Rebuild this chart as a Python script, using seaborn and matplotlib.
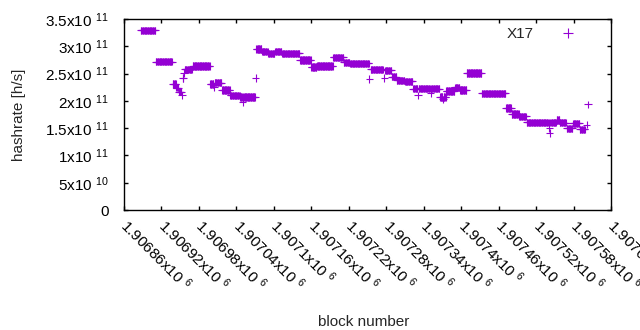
import numpy as np
import pandas as pd
import seaborn as sns
import matplotlib
matplotlib.use("Agg")
import matplotlib.pyplot as plt
import matplotlib.transforms as mtransforms

# ---- data: runs of constant hashrate (block start, block end, hashrate) ----
run_start = [1906887, 1906911, 1906938, 1906944, 1906948, 1906953, 1906954, 1906956,
             1906957, 1906970, 1906998, 1907004, 1907005, 1907017, 1907030, 1907046,
             1907050, 1907051, 1907071, 1907072, 1907081, 1907091, 1907102, 1907113,
             1907142, 1907160, 1907169, 1907195, 1907212, 1907222, 1907253, 1907255,
             1907277, 1907278, 1907289, 1907297, 1907310, 1907323, 1907331, 1907332,
             1907351, 1907352, 1907366, 1907371, 1907372, 1907376, 1907390, 1907398,
             1907409, 1907433, 1907472, 1907481, 1907493, 1907505, 1907541, 1907542,
             1907543, 1907553, 1907558, 1907569, 1907579, 1907590, 1907601, 1907603]
run_end = [1906910, 1906937, 1906943, 1906947, 1906952, 1906953, 1906955, 1906956,
           1906969, 1906997, 1907003, 1907004, 1907016, 1907029, 1907045, 1907049,
           1907050, 1907070, 1907071, 1907080, 1907090, 1907101, 1907112, 1907141,
           1907159, 1907168, 1907194, 1907211, 1907221, 1907252, 1907253, 1907275,
           1907277, 1907288, 1907296, 1907309, 1907322, 1907330, 1907331, 1907350,
           1907351, 1907365, 1907370, 1907371, 1907375, 1907389, 1907397, 1907408,
           1907432, 1907471, 1907480, 1907492, 1907504, 1907540, 1907541, 1907542,
           1907552, 1907557, 1907568, 1907578, 1907589, 1907598, 1907601, 1907603]
run_value = [3.29e11, 2.72e11, 2.31e11, 2.24e11, 2.17e11, 2.10e11, 2.42e11, 2.51e11,
             2.58e11, 2.64e11, 2.31e11, 2.25e11, 2.33e11, 2.20e11, 2.10e11, 2.07e11,
             1.98e11, 2.07e11, 2.42e11, 2.95e11, 2.90e11, 2.87e11, 2.90e11, 2.87e11,
             2.75e11, 2.62e11, 2.64e11, 2.80e11, 2.71e11, 2.69e11, 2.40e11, 2.58e11,
             2.42e11, 2.56e11, 2.44e11, 2.38e11, 2.36e11, 2.22e11, 2.10e11, 2.23e11,
             2.14e11, 2.22e11, 2.07e11, 2.03e11, 2.07e11, 2.18e11, 2.25e11, 2.20e11,
             2.51e11, 2.14e11, 1.87e11, 1.76e11, 1.72e11, 1.61e11, 1.50e11, 1.41e11,
             1.60e11, 1.65e11, 1.60e11, 1.50e11, 1.59e11, 1.48e11, 1.56e11, 1.94e11]

x_ticks = [1906860 + 60 * i for i in range(14)]
x_tick_labels = ["1.90686", "1.90692", "1.90698", "1.90704", "1.9071", "1.90716",
                 "1.90722", "1.90728", "1.90734", "1.9074", "1.90746", "1.90752",
                 "1.90758", "1.90764"]
y_ticks = [0, 0.5e11, 1e11, 1.5e11, 2e11, 2.5e11, 3e11, 3.5e11]
y_tick_labels = ["0", "5x10 $^{10}$", "1x10 $^{11}$", "1.5x10 $^{11}$", "2x10 $^{11}$",
                 "2.5x10 $^{11}$", "3x10 $^{11}$", "3.5x10 $^{11}$"]

blocks = np.concatenate([np.arange(s, e + 1) for s, e in zip(run_start, run_end)])
values = np.concatenate([[v] * (e - s + 1) for s, e, v in zip(run_start, run_end, run_value)])
df = pd.DataFrame({"block": blocks, "hashrate": values, "series": "X17"})

sns.set_theme(style="white")
plt.rcParams["font.family"] = ["Liberation Sans", "DejaVu Sans"]
plt.rcParams["mathtext.fontset"] = "custom"
plt.rcParams["mathtext.rm"] = "Liberation Sans"
plt.rcParams["mathtext.it"] = "Liberation Sans:italic"
plt.rcParams["mathtext.bf"] = "Liberation Sans:bold"
plt.rcParams["mathtext.default"] = "regular"

fig = plt.figure(figsize=(6.4, 3.3), dpi=100)
ax = fig.add_axes([124 / 640, 1 - 210 / 330, (611 - 124) / 640, (210 - 19) / 330])

sns.scatterplot(data=df, x="block", y="hashrate", hue="series", palette=["#9400D3"],
                marker="+", s=27, linewidth=0.8, ax=ax)

ax.set_xlim(1906860, 1907640)
ax.set_ylim(0, 3.5e11)
ax.set_xticks(x_ticks)
ax.set_xticklabels([t + "x10 $^{6}$" for t in x_tick_labels], rotation=-45,
                   ha="left", va="center", rotation_mode="anchor", fontsize=11)
offset = mtransforms.ScaledTranslation(3 / 100, 0, fig.dpi_scale_trans)
for lbl in ax.get_xticklabels():
    lbl.set_transform(lbl.get_transform() + offset)
ax.set_yticks(y_ticks)
ax.set_yticklabels(y_tick_labels, fontsize=11)
ax.tick_params(direction="in", length=3.2, width=1, colors="black",
               top=True, right=True, bottom=True, left=True)
ax.tick_params(axis="y", pad=11)
ax.tick_params(axis="x", pad=9)
for sp in ax.spines.values():
    sp.set_visible(True)
    sp.set_color("black")
    sp.set_linewidth(1)

ax.set_xlabel("block number", fontsize=11)
ax.set_ylabel("hashrate [h/s]", fontsize=11)
ax.xaxis.set_label_coords((364 - 124) / 487, -(315 - 210) / 191)
ax.yaxis.set_label_coords(-(124 - 26) / 487, 0.5)

leg = ax.legend(loc="upper right", markerfirst=False, frameon=False, fontsize=11,
                handlelength=2, handletextpad=1.25, bbox_to_anchor=(0.972, 1.03))
for h in leg.legend_handles:
    if hasattr(h, "set_markersize"):
        h.set_markersize(6.5)
        h.set_markeredgewidth(0.8)

fig.savefig("out.png", dpi=100)
